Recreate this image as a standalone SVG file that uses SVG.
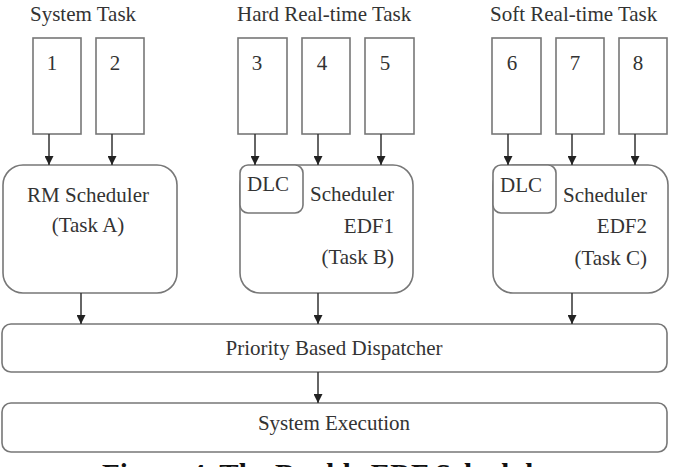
<svg xmlns="http://www.w3.org/2000/svg" width="681" height="467" viewBox="0 0 681 467">
<style>
  text { font-family: "Liberation Serif", "Times New Roman", serif; font-size: 21px; fill: #333; }
  .box { fill: #fff; stroke: #777; stroke-width: 1.6; }
  .conn { stroke: #333; stroke-width: 1.5; fill: none; marker-end: url(#ah); }
  .cap { font-weight: bold; font-size: 29px; fill: #111; }
</style>
<defs>
  <marker id="ah" viewBox="0 0 10 10" refX="10" refY="5" markerWidth="9" markerHeight="9" markerUnits="userSpaceOnUse" orient="auto">
    <path d="M0,0 L10,5 L0,10 Z" fill="#222"/>
  </marker>
</defs>
<rect width="681" height="467" fill="#fff"/>

<text x="30" y="21">System Task</text>
<text x="237" y="21">Hard Real-time Task</text>
<text x="490" y="21">Soft Real-time Task</text>

<g id="task1"><rect class="box" x="33" y="38" width="48" height="96"/><text x="52" y="70" text-anchor="middle">1</text></g>
<g id="task2"><rect class="box" x="96" y="38" width="48" height="96"/><text x="115" y="70" text-anchor="middle">2</text></g>
<g id="task3"><rect class="box" x="238" y="38" width="49" height="96"/><text x="257" y="70" text-anchor="middle">3</text></g>
<g id="task4"><rect class="box" x="302" y="38" width="48" height="96"/><text x="322" y="70" text-anchor="middle">4</text></g>
<g id="task5"><rect class="box" x="365" y="38" width="49" height="96"/><text x="385" y="70" text-anchor="middle">5</text></g>
<g id="task6"><rect class="box" x="492" y="38" width="49" height="96"/><text x="512" y="70" text-anchor="middle">6</text></g>
<g id="task7"><rect class="box" x="556" y="38" width="48" height="96"/><text x="575" y="70" text-anchor="middle">7</text></g>
<g id="task8"><rect class="box" x="619" y="38" width="48" height="96"/><text x="638" y="70" text-anchor="middle">8</text></g>

<g id="rm">
  <rect class="box" x="3" y="165" width="174" height="128" rx="20"/>
  <text x="88" y="202" text-anchor="middle">RM Scheduler</text>
  <text x="88" y="232" text-anchor="middle">(Task A)</text>
</g>
<g id="edf1">
  <rect class="box" x="240" y="165" width="173" height="128" rx="20"/>
  <rect class="box" x="240" y="165" width="63" height="48" rx="8"/>
  <text x="247" y="191">DLC</text>
  <text x="394" y="201" text-anchor="end">Scheduler</text>
  <text x="394" y="233" text-anchor="end">EDF1</text>
  <text x="394" y="264" text-anchor="end">(Task B)</text>
</g>
<g id="edf2">
  <rect class="box" x="493" y="165" width="175" height="128" rx="20"/>
  <rect class="box" x="493" y="165" width="63" height="48" rx="8"/>
  <text x="500" y="192">DLC</text>
  <text x="647" y="202" text-anchor="end">Scheduler</text>
  <text x="647" y="233" text-anchor="end">EDF2</text>
  <text x="647" y="265" text-anchor="end">(Task C)</text>
</g>
<g id="dispatcher">
  <rect class="box" x="2" y="324" width="665" height="48" rx="9"/>
  <text x="334" y="355" text-anchor="middle">Priority Based Dispatcher</text>
</g>
<g id="execution">
  <rect class="box" x="2" y="403" width="665" height="49" rx="9"/>
  <text x="334" y="430" text-anchor="middle">System Execution</text>
</g>

<g id="connectors">
  <line class="conn" x1="49" y1="134" x2="49" y2="165"/>
  <line class="conn" x1="112" y1="134" x2="112" y2="165"/>
  <line class="conn" x1="255" y1="134" x2="255" y2="165"/>
  <line class="conn" x1="318" y1="134" x2="318" y2="165"/>
  <line class="conn" x1="381" y1="134" x2="381" y2="165"/>
  <line class="conn" x1="508" y1="134" x2="508" y2="165"/>
  <line class="conn" x1="572" y1="134" x2="572" y2="165"/>
  <line class="conn" x1="635" y1="134" x2="635" y2="165"/>
  <line class="conn" x1="81" y1="293" x2="81" y2="324"/>
  <line class="conn" x1="318" y1="293" x2="318" y2="324"/>
  <line class="conn" x1="572" y1="293" x2="572" y2="324"/>
  <line class="conn" x1="318" y1="372" x2="318" y2="403"/>
</g>

<text class="cap" x="102" y="484">Figure 4. The Double EDF Scheduler</text>
</svg>
